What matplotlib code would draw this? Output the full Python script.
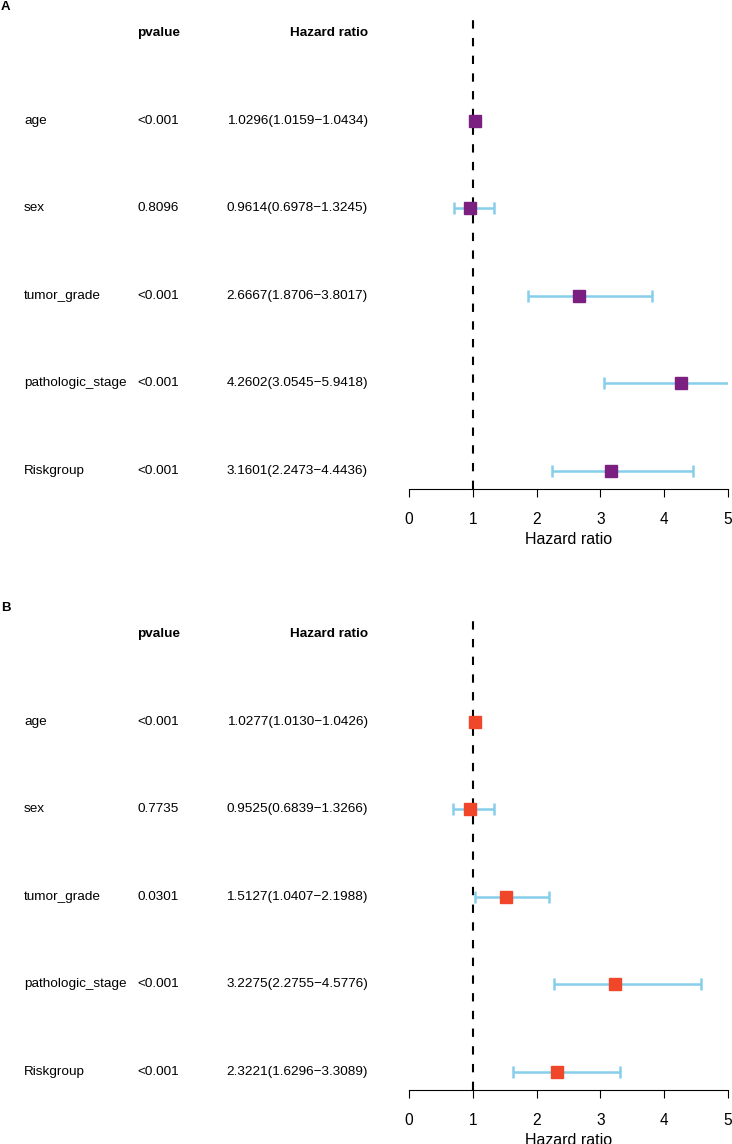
import matplotlib
matplotlib.use('agg')
from matplotlib import pyplot as plt
from matplotlib.transforms import blended_transform_factory

plt.rcParams['font.family'] = ['Liberation Sans', 'DejaVu Sans']

variables = ['age', 'sex', 'tumor_grade', 'pathologic_stage', 'Riskgroup']

# panel A
pval_a = ['<0.001', '0.8096', '<0.001', '<0.001', '<0.001']
hr_a = [1.0296, 0.9614, 2.6667, 4.2602, 3.1601]
low_a = [1.0159, 0.6978, 1.8706, 3.0545, 2.2473]
high_a = [1.0434, 1.3245, 3.8017, 5.9418, 4.4436]

# panel B
pval_b = ['<0.001', '0.7735', '0.0301', '<0.001', '<0.001']
hr_b = [1.0277, 0.9525, 1.5127, 3.2275, 2.3221]
low_b = [1.0130, 0.6839, 1.0407, 2.2755, 1.6296]
high_b = [1.0426, 1.3266, 2.1988, 4.5776, 3.3089]

W, H = 732, 1144


def forest(fig, top_px, letter, pvals, hr, low, high, color):
    # plot region in pixel units, converted to figure fractions
    axis_px = top_px + 471
    ax = fig.add_axes([409 / W, 1 - axis_px / H, (728 - 409) / W, (axis_px - top_px) / H])
    n = len(variables)
    ys = [n - i for i in range(n)]
    ax.set_xlim(0, 5)
    ax.set_ylim(0.794, 6.177)

    ax.axvline(1, color='black', lw=1.5, dashes=(4, 4.5), zorder=1)
    ax.errorbar(hr, ys, xerr=[[h - l for h, l in zip(hr, low)], [u - h for h, u in zip(hr, high)]],
                fmt='none', ecolor='#87CEEB', elinewidth=1.8, capsize=4.3, capthick=1.8, zorder=2)
    ax.plot(hr, ys, 's', color=color, markersize=8, zorder=3)

    for s in ['top', 'right', 'left']:
        ax.spines[s].set_visible(False)
    ax.spines['bottom'].set_linewidth(0.8)
    ax.spines['bottom'].set_bounds(0, 5)
    ax.set_yticks([])
    ax.set_xticks(range(6))
    ax.tick_params(axis='x', length=5.8, width=0.8, pad=10.5, labelsize=11.2)
    ax.set_xlabel('Hazard ratio', fontsize=11.5, labelpad=4)

    tr = blended_transform_factory(fig.transFigure, ax.transData)
    fs = 9.7
    ax.text(137 / W, 6.0, 'pvalue', transform=tr, fontsize=fs, fontweight='bold',
            ha='left', va='center', clip_on=False)
    ax.text(368 / W, 6.0, 'Hazard ratio', transform=tr, fontsize=fs, fontweight='bold',
            ha='right', va='center', clip_on=False)
    for y, name, p, h, l, u in zip(ys, variables, pvals, hr, low, high):
        ax.text(24 / W, y, name, transform=tr, fontsize=fs, ha='left', va='center', clip_on=False)
        ax.text(137 / W, y, p, transform=tr, fontsize=fs, ha='left', va='center', clip_on=False)
        ax.text(368 / W, y, f'{h:.4f}({l:.4f}\u2212{u:.4f})', transform=tr, fontsize=fs,
                ha='right', va='center', clip_on=False)

    fig.text(1 / W, 1 - (top_px - 11) / H, letter, fontsize=9.5, fontweight='bold',
             ha='left', va='center')
    return ax


fig = plt.figure(figsize=(W / 100, H / 100), dpi=100)
forest(fig, 18, 'A', pval_a, hr_a, low_a, high_a, '#7B1F80')
forest(fig, 619, 'B', pval_b, hr_b, low_b, high_b, '#F0472A')
fig.savefig('out.png', dpi=100)
plt.close()
